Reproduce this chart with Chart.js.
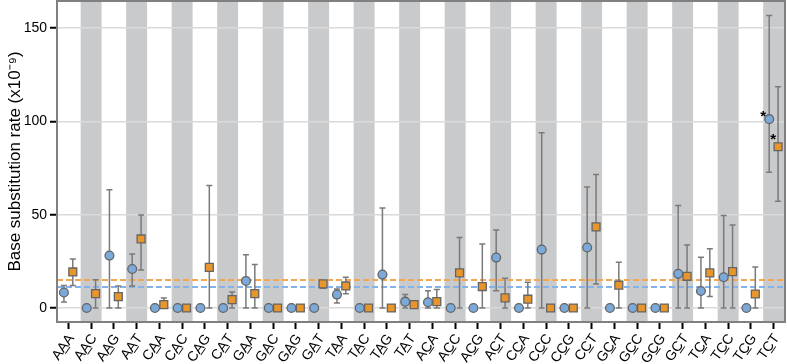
<!DOCTYPE html>
<html>
<head>
<meta charset="utf-8">
<script src="https://cdn.jsdelivr.net/npm/chart.js@4.4.0/dist/chart.umd.min.js"></script>
<style>
  html, body { margin: 0; padding: 0; background: #fff; }
  #wrap { width: 787px; height: 364px; }
</style>
</head>
<body>
<div id="wrap"><canvas id="chart"></canvas></div>
<script>
// ----- DATA -----

const categories = [
  "AAA", "AAC", "AAG", "AAT", "CAA", "CAC", "CAG", "CAT",
  "GAA", "GAC", "GAG", "GAT", "TAA", "TAC", "TAG", "TAT",
  "ACA", "ACC", "ACG", "ACT", "CCA", "CCC", "CCG", "CCT",
  "GCA", "GCC", "GCG", "GCT", "TCA", "TCC", "TCG", "TCT"
];

const blueRate = [8.3, 0, 28.1, 20.9, 0, 0, 0, 0, 14.5, 0, 0, 0, 7.2, 0, 17.9, 3.4,
  3.1, 0, 0, 27.0, 0, 31.3, 0, 32.4, 0, 0, 0, 18.3, 9.1, 16.5, 0, 101.2];
const blueLow = [3.2, 0, 0, 11.8, 0, 0, 0, 0, 0, 0, 0, 0, 2.7, 0, 0, 0,
  0, 0, 0, 9.3, 0, 0, 0, 0, 0, 0, 0, 0, 0, 0, 0, 72.8];
const blueHigh = [12.0, 0, 63.3, 29.0, 0, 0, 0, 0, 28.6, 0, 0, 0, 10.2, 0, 53.6, 7.3,
  9.3, 0, 0, 41.8, 0, 93.9, 0, 64.8, 0, 0, 0, 54.9, 27.2, 49.6, 0, 156.7];

const orangeRate = [19.3, 7.7, 6.1, 37.0, 1.8, 0, 21.8, 4.5, 7.7, 0, 0, 12.9, 11.8, 0, 0, 1.8,
  3.4, 18.8, 11.5, 5.4, 4.7, 0, 0, 43.5, 12.2, 0, 0, 17.0, 18.8, 19.5, 7.5, 86.4];
const orangeLow = [12.0, 0, 0, 20.4, 0, 0, 0, 0, 0, 0, 0, 10.6, 7.7, 0, 0, 0.4,
  0, 0, 0, 0, 0, 0, 0, 12.9, 0, 0, 0, 0, 6.1, 0, 0, 57.2];
const orangeHigh = [26.3, 15.2, 11.8, 49.9, 5.4, 0, 65.7, 8.6, 23.3, 0, 0, 13.8, 16.5, 0, 0, 2.9,
  9.9, 37.8, 34.3, 15.9, 13.8, 0, 0, 71.6, 24.5, 0, 0, 33.8, 31.7, 44.5, 22.0, 118.6];

const blueMean = 11;
const orangeMean = 15;
const significant = ["TCT"];
const yTicks = [0, 50, 100, 150];

// ----- STYLE -----

const FONT = "'Liberation Sans', Arial, Helvetica, sans-serif";
const BLUE = "#7ba9da";
const ORANGE = "#e8952c";
const SHIFT = 0.195;

function underlineMiddle(s) {
  return s[0] + s[1] + "\u0332" + s[2];
}

// ----- PLUGINS -----

const bands = {
  id: "bands",
  beforeDraw(chart) {
    const { ctx, chartArea: a, scales: { x } } = chart;
    ctx.save();
    ctx.fillStyle = "#c9cacc";
    categories.forEach((c, i) => {
      if (i % 2 === 0) return;
      const l = x.getPixelForValue(i - 0.46);
      const r = x.getPixelForValue(i + 0.46);
      ctx.fillRect(l, a.top, r - l, a.bottom - a.top);
    });
    ctx.restore();
  }
};

const errorBars = {
  id: "errorBars",
  beforeDatasetsDraw(chart) {
    const { ctx, chartArea: a, scales: { x, y } } = chart;
    ctx.save();

    // mean lines
    const meanLine = (v, color) => {
      const py = Math.round(y.getPixelForValue(v));
      ctx.strokeStyle = color;
      ctx.beginPath();
      ctx.moveTo(a.left, py);
      ctx.lineTo(a.right, py);
      ctx.stroke();
    };
    ctx.setLineDash([6, 3]);
    ctx.lineWidth = 2;
    meanLine(orangeMean, "#f2a852");
    meanLine(blueMean, "#86b2e8");
    ctx.setLineDash([]);

    // whiskers
    ctx.strokeStyle = "#7a7a7a";
    ctx.lineWidth = 1.5;
    const draw = (lo, hi, off) => {
      lo.forEach((l, i) => {
        const h = hi[i];
        if (h - l <= 0) return;
        const px = x.getPixelForValue(i + off);
        const p1 = y.getPixelForValue(l);
        const p2 = y.getPixelForValue(h);
        ctx.beginPath();
        ctx.moveTo(px, p1);
        ctx.lineTo(px, p2);
        ctx.moveTo(px - 3, p1);
        ctx.lineTo(px + 3, p1);
        ctx.moveTo(px - 3, p2);
        ctx.lineTo(px + 3, p2);
        ctx.stroke();
      });
    };
    draw(blueLow, blueHigh, -SHIFT);
    draw(orangeLow, orangeHigh, SHIFT);
    ctx.restore();
  },
  afterDatasetsDraw(chart) {
    const { ctx, chartArea: a, scales: { x, y } } = chart;
    ctx.save();
    // frame
    ctx.strokeStyle = "#808080";
    ctx.lineWidth = 2;
    ctx.strokeRect(a.left, a.top, a.right - a.left, a.bottom - a.top);

    // significance stars
    ctx.fillStyle = "#000";
    ctx.font = "bold 15px " + FONT;
    ctx.textAlign = "center";
    significant.forEach((c) => {
      const i = categories.indexOf(c);
      ctx.fillText("*", x.getPixelForValue(i - SHIFT) - 6, y.getPixelForValue(blueRate[i]) + 2);
      ctx.fillText("*", x.getPixelForValue(i + SHIFT) - 5, y.getPixelForValue(orangeRate[i]) - 3);
    });
    ctx.restore();
  }
};

// ----- CHART -----

const ctx = document.getElementById("chart").getContext("2d");

new Chart(ctx, {
  type: "scatter",
  data: {
    datasets: [
      {
        data: blueRate.map((v, i) => ({ x: i - SHIFT, y: v })),
        pointStyle: "circle",
        pointRadius: 4.4,
        backgroundColor: BLUE,
        borderColor: "#646464",
        borderWidth: 1.3,
      },
      {
        data: orangeRate.map((v, i) => ({ x: i + SHIFT, y: v })),
        pointStyle: "rect",
        pointRadius: 5.6,
        backgroundColor: ORANGE,
        borderColor: "#646464",
        borderWidth: 1.3,
      },
    ],
  },
  options: {
    responsive: true,
    maintainAspectRatio: false,
    animation: false,
    events: [],
    layout: { autoPadding: false, padding: { top: 1, right: 2, left: 0, bottom: 0 } },
    plugins: {
      legend: { display: false },
      tooltip: { enabled: false },
    },
    scales: {
      x: {
        type: "linear",
        min: -0.5,
        max: 31.5,
        afterBuildTicks: (s) => {
          s.ticks = categories.map((c, i) => ({ value: i }));
        },
        afterFit: (s) => {
          s.height = 42;
          s.paddingLeft = 0;
          s.paddingRight = 0;
        },
        ticks: {
          autoSkip: false,
          minRotation: 55,
          maxRotation: 55,
          padding: 2,
          labelOffset: 3,
          color: "#000",
          font: { family: FONT, size: 14 },
          callback: (v) => underlineMiddle(categories[v]),
        },
        grid: {
          drawOnChartArea: false,
          tickLength: 7,
          tickColor: "#000",
          tickWidth: 2,
        },
        border: { display: false },
      },
      y: {
        min: -7.5,
        max: 164.5,
        afterBuildTicks: (s) => {
          s.ticks = yTicks.map((v) => ({ value: v }));
        },
        afterFit: (s) => {
          s.width = 57;
          s.paddingTop = 0;
          s.paddingBottom = 0;
        },
        ticks: {
          padding: 3,
          color: "#000",
          font: { family: FONT, size: 14 },
        },
        grid: {
          color: "#dadada",
          lineWidth: 1.5,
          tickLength: 7,
          tickColor: "#000",
          tickWidth: 2,
        },
        border: { display: false },
        title: {
          display: true,
          text: "Base substitution rate (x10\u207B\u2079)",
          color: "#000",
          font: { family: FONT, size: 17 },
          padding: { top: 5, bottom: 0 },
        },
      },
    },
  },
  plugins: [bands, errorBars],
});
</script>
</body>
</html>
